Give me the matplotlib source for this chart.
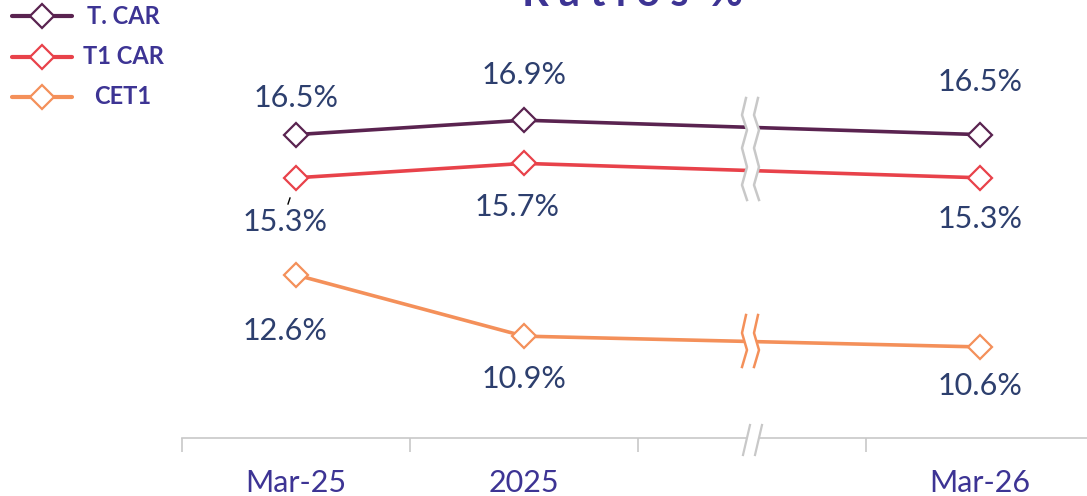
import matplotlib.pyplot as plt
import matplotlib.transforms as mtrans
from matplotlib.lines import Line2D

W, H = 1087, 496
NAVY = "#2d3f6e"
PURPLE = "#3d3494"
GRID = "#c8c8c8"

# data
categories = ["Mar-25", "2025", "", "Mar-26"]
x_idx = [0, 1, 3]
tcar = [16.5, 16.9, 16.5]
t1car = [15.3, 15.7, 15.3]
cet1 = [12.6, 10.9, 10.6]
series_names = ["T. CAR", "T1 CAR", "CET1"]
colors = ["#5a2350", "#e8424a", "#f4905a"]

# label offsets (pixels)
offsets = [
    [(0, 37), (0, 45), (0, 53)],
    [(-11, -44), (-7, -44), (0, -41)],
    [(-11, -56), (0, -43), (0, -39)],
]

fig = plt.figure(figsize=(W / 100, H / 100), dpi=100)
ax = fig.add_axes([182 / W, 1 - 438 / H, 1 - 182 / W, 438 / H])
ax.set_xlim(-0.5, 3.47)
ax.set_ylim(8.07, 20.24)

px = mtrans.Affine2D().scale(1 / W, -1 / H).translate(0, 1) + fig.transFigure

for vals, col, offs in zip([tcar, t1car, cet1], colors, offsets):
    ax.plot(x_idx, vals, color=col, lw=2.6, marker="D", ms=12,
            mfc="white", mec=col, mew=1.6, zorder=3, clip_on=False)
    for xi, v, (dx, dy) in zip(x_idx, vals, offs):
        ax.annotate(f"{v:.1f}%", (xi, v), xytext=(dx, dy),
                    textcoords="offset pixels", ha="center", va="center",
                    fontsize=22, color=NAVY, family="Lato")

# leader line for Mar-25 T1 CAR label
fig.add_artist(Line2D([290, 288], [198, 204], color="black", lw=1, transform=px))

# axes styling
for s in ["top", "right", "left"]:
    ax.spines[s].set_visible(False)
ax.spines["bottom"].set_color(GRID)
ax.spines["bottom"].set_linewidth(1.2)
ax.set_yticks([])
ax.set_xticks([-0.5, 0.5, 1.5, 2.5], minor=False)
ax.set_xticklabels([])
ax.tick_params(axis="x", length=10, color=GRID, width=1.2)
ax.set_xticks(range(len(categories)), minor=True)
ax.set_xticklabels(categories, minor=True)
ax.tick_params(axis="x", which="minor", length=0, pad=22,
               labelsize=22, labelcolor=PURPLE)
for lab in ax.get_xticklabels(minor=True):
    lab.set_family("Lato")


# break marks on the lines
top_ys = [98, 115, 130, 148, 167, 185, 200]
top_xo = [0, -4, 1, -4, 1, -4, 1]
bot_ys = [315, 333, 350, 367]
bot_xo = [0, -4, 1, -4]
for ys, xo, col in [(top_ys, top_xo, GRID), (bot_ys, bot_xo, colors[2])]:
    xs_l = [746 + o for o in xo]
    xs_r = [758 + o for o in xo]
    fig.add_artist(Line2D([x + 6 for x in xs_l], ys, color="white", lw=8,
                          transform=px, zorder=5))
    fig.add_artist(Line2D(xs_l, ys, color=col, lw=1.8, transform=px, zorder=6))
    fig.add_artist(Line2D(xs_r, ys, color=col, lw=1.8, transform=px, zorder=6))

# break mark on axis
fig.add_artist(Line2D([756, 749], [425, 455], color="white", lw=8, transform=px, zorder=5))
for dx in (0, 12):
    fig.add_artist(Line2D([750 + dx, 743 + dx], [425, 455], color=GRID, lw=1.6,
                          transform=px, zorder=6))

# legend
for i, (name, col) in enumerate(zip(series_names, colors)):
    y = 16 + i * 40.5
    fig.add_artist(Line2D([12, 72], [y, y], color=col, lw=3, transform=px,
                          solid_capstyle="round"))
    fig.add_artist(Line2D([42], [y], marker="D", ms=12, mfc="white", mec=col,
                          mew=1.6, color=col, transform=px))
    fig.text(123 / W, 1 - y / H, name, ha="center", va="center", fontsize=17,
             fontweight="bold", color=PURPLE, family="Lato")

# title (cut off at the top, as in the source)
fig.text(632 / W, 1 - 6 / H, "R a t i o s  %", ha="center", va="baseline",
         fontsize=30, fontweight="bold", color=PURPLE, family="Lato")

fig.savefig("out.png", dpi=100)
